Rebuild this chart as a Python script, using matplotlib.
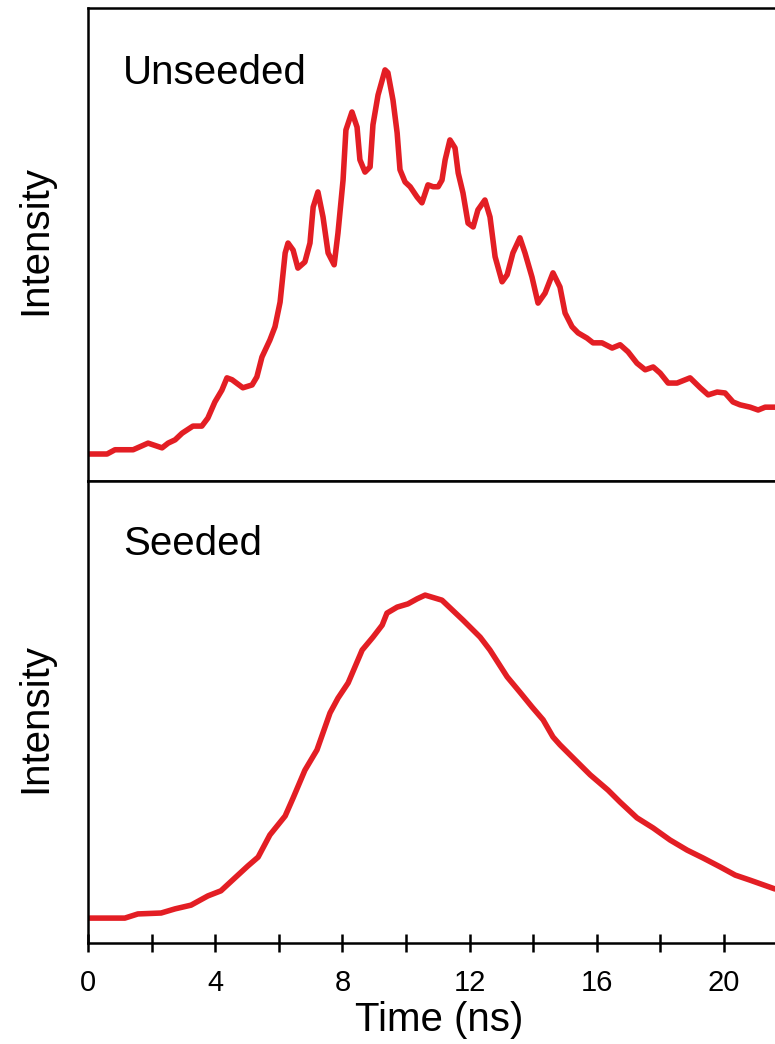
import matplotlib.pyplot as plt

plt.rcParams['font.family'] = ['Liberation Sans', 'DejaVu Sans']

# unseeded pulse (ns, a.u.)
t_unseeded = [0.03, 0.60, 0.85, 1.42, 1.89, 2.33, 2.52, 2.74, 2.96, 3.30,
              3.58, 3.77, 3.99, 4.21, 4.37, 4.53, 4.87, 5.16, 5.31, 5.47,
              5.72, 5.88, 6.04, 6.20, 6.29, 6.45, 6.60, 6.82, 6.98, 7.08,
              7.23, 7.39, 7.55, 7.74, 7.86, 8.02, 8.11, 8.30, 8.46, 8.55,
              8.71, 8.87, 8.96, 9.12, 9.34, 9.43, 9.59, 9.72, 9.81, 9.97,
              10.13, 10.35, 10.50, 10.69, 10.85, 11.01, 11.13, 11.23, 11.38, 11.54,
              11.64, 11.79, 11.95, 12.11, 12.26, 12.48, 12.64, 12.80, 13.02, 13.18,
              13.36, 13.58, 13.74, 13.96, 14.15, 14.37, 14.62, 14.84, 15.00, 15.22,
              15.41, 15.69, 15.88, 16.16, 16.48, 16.73, 16.98, 17.26, 17.52, 17.77,
              17.99, 18.24, 18.52, 18.93, 19.25, 19.50, 19.78, 20.03, 20.28, 20.50,
              20.82, 21.07, 21.29, 21.60]
i_unseeded = [5.7, 5.7, 6.6, 6.6, 8.0, 7.0, 8.0, 8.7, 10.1, 11.6,
              11.6, 13.3, 16.7, 19.2, 21.8, 21.4, 19.7, 20.3, 22.0, 26.2,
              29.8, 32.6, 37.8, 48.2, 50.3, 48.8, 45.0, 46.3, 50.3, 57.9,
              61.1, 55.8, 48.2, 45.7, 52.4, 63.6, 74.2, 78.0, 74.8, 67.9,
              65.3, 66.4, 75.3, 81.6, 86.9, 86.3, 80.5, 73.6, 65.8, 63.2,
              62.2, 60.0, 58.8, 62.6, 62.2, 62.2, 63.6, 67.9, 72.1, 70.4,
              65.1, 60.9, 54.5, 53.7, 57.3, 59.4, 55.8, 47.4, 42.1, 43.6,
              48.2, 51.4, 48.2, 43.1, 37.6, 39.7, 44.0, 41.0, 35.5, 32.6,
              31.3, 30.2, 29.2, 29.2, 28.1, 28.8, 27.3, 24.9, 23.5, 24.1,
              22.8, 20.7, 20.7, 21.8, 19.7, 18.2, 18.8, 18.6, 16.7, 16.1,
              15.6, 15.0, 15.6, 15.6]

# seeded pulse (ns, a.u.)
t_seeded = [0.06, 1.16, 1.57, 2.30, 2.74, 3.24, 3.77, 4.18, 4.62, 5.03,
            5.35, 5.72, 6.20, 6.45, 6.82, 7.20, 7.61, 7.86, 8.18, 8.62,
            8.96, 9.25, 9.40, 9.72, 10.06, 10.35, 10.60, 11.13, 11.79, 12.33,
            12.64, 13.18, 13.58, 13.96, 14.31, 14.62, 14.84, 15.38, 15.79, 16.35,
            16.73, 17.26, 17.77, 18.30, 18.84, 19.34, 19.87, 20.35, 20.82, 21.60]
i_seeded = [5.4, 5.4, 6.3, 6.5, 7.4, 8.2, 10.2, 11.3, 14.1, 16.7,
            18.6, 23.4, 27.5, 31.4, 37.4, 41.8, 49.8, 53.0, 56.3, 63.4,
            66.2, 68.8, 71.4, 72.7, 73.4, 74.5, 75.3, 74.2, 69.9, 66.2,
            63.4, 57.6, 54.3, 51.1, 48.3, 44.6, 42.9, 39.2, 36.4, 33.1,
            30.5, 27.1, 24.9, 22.3, 20.1, 18.4, 16.5, 14.7, 13.6, 11.7]

labels = ['Unseeded', 'Seeded']
major_ticks = [0, 4, 8, 12, 16, 20]
minor_ticks = [2, 6, 10, 14, 18]

red = '#e31e24'
lw_axis = 1.8

fig = plt.figure(figsize=(7.75, 10.44), dpi=100)
ax1 = fig.add_axes([0.1135, 0.5393, 0.8865, 0.4531])
ax2 = fig.add_axes([0.1135, 0.0967, 0.8865, 0.4426])

for ax, t, y, name in [(ax1, t_unseeded, i_unseeded, labels[0]),
                       (ax2, t_seeded, i_seeded, labels[1])]:
    ax.plot(t, y, color=red, lw=4, solid_joinstyle='round', solid_capstyle='round')
    ax.set_xlim(0, 21.6)
    ax.set_ylim(0, 100)
    ax.spines['right'].set_visible(False)
    for s in ['left', 'top', 'bottom']:
        ax.spines[s].set_linewidth(lw_axis)
    ax.set_yticks([])
    ax.text(0.051, 0.84, name, transform=ax.transAxes, fontsize=29,
            ha='left', va='baseline')

ax1.set_xticks([])

ax2.set_xticks(major_ticks)
ax2.set_xticks(minor_ticks, minor=True)
ax2.tick_params(axis='x', which='both', direction='inout', length=13,
                width=lw_axis, labelsize=21, pad=12)

fig.text(0.045, 0.770, 'Intensity', rotation=90, fontsize=29,
         ha='center', va='center')
fig.text(0.045, 0.312, 'Intensity', rotation=90, fontsize=29,
         ha='center', va='center')
fig.text(439 / 775, 1 - 1020 / 1044, 'Time (ns)', fontsize=29,
         ha='center', va='center')

fig.savefig('out.png', dpi=100)
